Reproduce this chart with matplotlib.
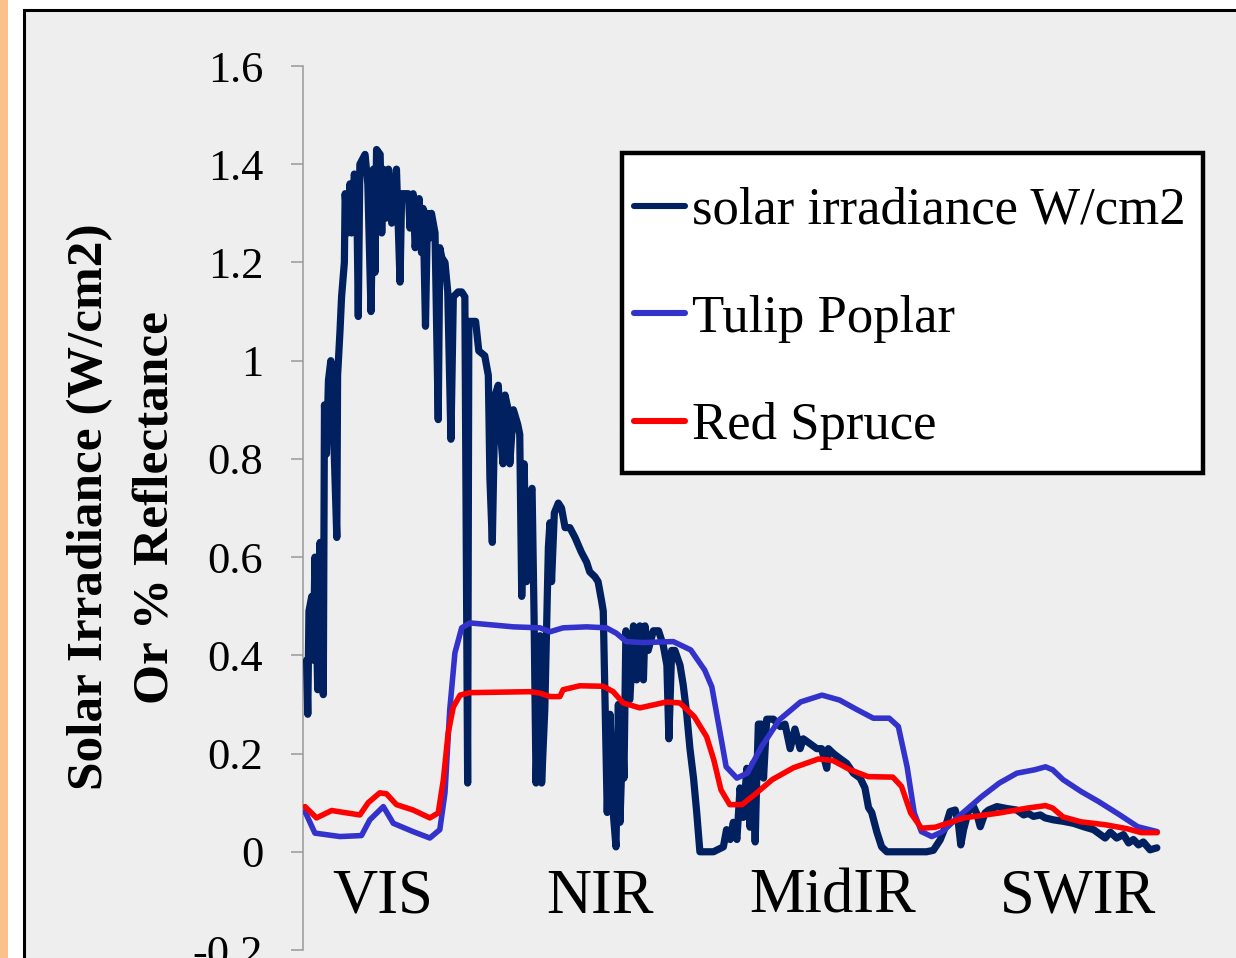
import matplotlib
matplotlib.use("Agg")
import matplotlib.pyplot as plt
from matplotlib.patches import Rectangle
from matplotlib.ticker import FuncFormatter

plt.rcParams['font.family'] = ['Liberation Serif', 'DejaVu Serif']
plt.rcParams['axes.unicode_minus'] = False

# solar irradiance (W/cm2), wavelength in nm
solar_wl = [354, 357, 360, 367, 371, 375, 382, 388, 396, 399, 404, 409, 415, 421, 430, 432,
            438, 442, 449, 451, 457, 463, 467, 474, 480, 484, 488, 501, 508, 516, 522, 526,
            530, 539, 543, 547, 553, 560, 568, 580, 589, 593, 610, 614, 622, 627, 637, 643,
            647, 653, 658, 664, 668, 677, 685, 689, 694, 702, 709, 717, 723, 735, 744, 752,
            759, 762, 769, 779, 787, 802, 811, 815, 821, 828, 836, 843, 848, 853, 861, 865,
            874, 885, 890, 895, 901, 907, 916, 921, 926, 931, 936, 941, 945, 953, 962, 966,
            970, 977, 987, 995, 1004, 1016, 1029, 1045, 1058, 1066, 1079, 1087, 1096, 1100,
            1105, 1110, 1117, 1126, 1132, 1138, 1142, 1149, 1152, 1157, 1167, 1176, 1184,
            1192, 1201, 1205, 1213, 1226, 1239, 1251, 1260, 1265, 1272, 1280, 1293, 1301,
            1310, 1318, 1327, 1335, 1343, 1377, 1402, 1410, 1419, 1427, 1436, 1444, 1452,
            1461, 1469, 1477, 1482, 1486, 1490, 1498, 1503, 1511, 1528, 1545, 1557, 1570,
            1582, 1595, 1603, 1620, 1637, 1649, 1662, 1666, 1679, 1695, 1712, 1729, 1746,
            1758, 1767, 1775, 1788, 1800, 1813, 1913, 1930, 1947, 1960, 1972, 1985, 1993,
            1999, 2006, 2018, 2031, 2039, 2048, 2060, 2069, 2090, 2115, 2140, 2157, 2169,
            2182, 2199, 2211, 2232, 2257, 2282, 2308, 2333, 2350, 2362, 2375, 2391, 2408,
            2421, 2433, 2446, 2458, 2475, 2492]
solar = [0.39, 0.28, 0.49, 0.52, 0.39, 0.60, 0.33, 0.63, 0.32, 0.91, 0.81, 0.96, 1.00, 0.88, 0.64, 0.97,
         1.06, 1.13, 1.20, 1.34, 1.26, 1.36, 1.26, 1.38, 1.35, 1.09, 1.40, 1.42, 1.36, 1.10, 1.39, 1.18,
         1.43, 1.42, 1.26, 1.39, 1.29, 1.39, 1.28, 1.39, 1.16, 1.34, 1.34, 1.27, 1.34, 1.23, 1.33, 1.22,
         1.31, 1.07, 1.30, 1.25, 1.30, 1.26, 0.88, 1.23, 1.21, 1.20, 1.14, 0.84, 1.13, 1.14, 1.14, 1.13,
         0.14, 1.08, 1.08, 1.08, 1.02, 1.01, 0.97, 0.76, 0.63, 0.93, 0.95, 0.84, 0.79, 0.93, 0.90, 0.79,
         0.90, 0.87, 0.85, 0.52, 0.79, 0.55, 0.73, 0.74, 0.48, 0.14, 0.30, 0.44, 0.14, 0.29, 0.62, 0.67,
         0.55, 0.69, 0.71, 0.70, 0.66, 0.66, 0.64, 0.61, 0.59, 0.57, 0.56, 0.55, 0.51, 0.49,
         0.28, 0.08, 0.28, 0.07, 0.01, 0.30, 0.06, 0.24, 0.15, 0.45, 0.31, 0.46, 0.35,
         0.46, 0.35, 0.46, 0.41, 0.45, 0.45, 0.42, 0.38, 0.23, 0.41, 0.41, 0.38, 0.34,
         0.28, 0.21, 0.15, 0.08, 0.00, 0.00, 0.01, 0.045, 0.025, 0.06, 0.025, 0.13, 0.07,
         0.17, 0.05, 0.18, 0.02, 0.15, 0.26, 0.26, 0.15, 0.27, 0.27, 0.255, 0.26, 0.21,
         0.25, 0.21, 0.23, 0.22, 0.21, 0.21, 0.17, 0.21, 0.20, 0.19, 0.18, 0.16, 0.15,
         0.13, 0.09, 0.08, 0.04, 0.01, 0.0, 0.0, 0.003, 0.024, 0.05, 0.082, 0.085, 0.058,
         0.014, 0.045, 0.082, 0.092, 0.078, 0.051, 0.079, 0.085, 0.092, 0.088, 0.085, 0.075, 0.078,
         0.072, 0.075, 0.069, 0.065, 0.062, 0.058, 0.051, 0.045, 0.035, 0.028, 0.04, 0.028, 0.035,
         0.018, 0.025, 0.014, 0.02, 0.004, 0.008]

# Tulip Poplar reflectance
tulip_wl = [350, 375, 438, 492, 513, 547, 572, 622, 664, 689, 702, 714, 727, 744, 765, 874,
            941, 966, 999, 1058, 1108, 1133, 1158, 1200, 1276, 1320, 1355, 1373, 1391, 1409,
            1436, 1462, 1498, 1543, 1596, 1650, 1694, 1739, 1779, 1819, 1842, 1864, 1882, 1900,
            1926, 1953, 1998, 2051, 2096, 2140, 2185, 2212, 2230, 2256, 2301, 2346, 2399, 2444, 2493]
tulip = [0.082, 0.038, 0.031, 0.033, 0.065, 0.092, 0.058, 0.041, 0.028, 0.045, 0.12, 0.289, 0.405, 0.456, 0.466, 0.458,
         0.456, 0.448, 0.456, 0.458, 0.456, 0.445, 0.428, 0.426, 0.428, 0.411, 0.37, 0.336, 0.255, 0.173,
         0.150, 0.16, 0.214, 0.269, 0.305, 0.319, 0.309, 0.289, 0.272, 0.272, 0.255, 0.173, 0.079, 0.041,
         0.031, 0.041, 0.075, 0.112, 0.140, 0.160, 0.167, 0.173, 0.167, 0.147, 0.123, 0.102, 0.075, 0.051, 0.041]

# Red Spruce reflectance
spruce_wl = [350, 379, 417, 488, 509, 538, 555, 580, 622, 664, 685, 698, 710, 723, 740, 765,
             915, 941, 966, 991, 999, 1041, 1100, 1125, 1150, 1192, 1259, 1293, 1329, 1360,
             1378, 1396, 1418, 1449, 1480, 1525, 1578, 1641, 1677, 1721, 1766, 1828, 1850, 1873,
             1900, 1935, 2007, 2096, 2167, 2212, 2230, 2256, 2301, 2363, 2417, 2453, 2493]
spruce = [0.092, 0.069, 0.084, 0.075, 0.10, 0.12, 0.118, 0.096, 0.085, 0.069, 0.079, 0.147, 0.242, 0.295, 0.319, 0.324,
          0.326, 0.323, 0.316, 0.316, 0.33, 0.338, 0.337, 0.326, 0.303, 0.293, 0.305, 0.303, 0.275, 0.234,
          0.187, 0.126, 0.096, 0.096, 0.116, 0.147, 0.171, 0.189, 0.186, 0.167, 0.153, 0.152, 0.133, 0.079,
          0.048, 0.05, 0.069, 0.079, 0.089, 0.094, 0.089, 0.071, 0.061, 0.055, 0.047, 0.039, 0.039]

bands = ['VIS', 'NIR', 'MidIR', 'SWIR']
band_wl = [546, 1092, 1678, 2294]

W, H = 1236, 958
fig = plt.figure(figsize=(W / 100, H / 100), dpi=100, facecolor='white')

# slide-like frame behind the chart
fig.add_artist(Rectangle((0, 0), 8 / W, 1, transform=fig.transFigure,
                         facecolor='#FBC18B', edgecolor='none', zorder=-10))
fig.add_artist(Rectangle((24 / W, -0.1), 1.2, 1.1 - 10 / H, transform=fig.transFigure,
                         facecolor='#EEEEEE', edgecolor='black', linewidth=2.2, zorder=-10))

ax = fig.add_axes([303 / W, 8 / H, 861 / W, 884 / H])
ax.set_zorder(2)
ax.set_facecolor('none')

ax.plot(solar_wl, solar, color='#00205F', lw=5.2, solid_joinstyle='round',
        solid_capstyle='round', label='solar irradiance W/cm2', zorder=3)
ax.plot(tulip_wl, tulip, color='#3333CC', lw=4.0, solid_capstyle='round',
        solid_joinstyle='round', label='Tulip Poplar', zorder=4)
ax.plot(spruce_wl, spruce, color='#FF0000', lw=4.0, solid_capstyle='round',
        solid_joinstyle='round', label='Red Spruce', zorder=5)

ax.set_xlim(345, 2510)
ax.set_ylim(-0.2, 1.6)
ax.set_yticks([-0.2, 0, 0.2, 0.4, 0.6, 0.8, 1.0, 1.2, 1.4, 1.6])
ax.yaxis.set_major_formatter(FuncFormatter(lambda v, p: f'{v:g}'))
ax.tick_params(axis='y', direction='out', length=8.6, width=1.1, color='#999999',
               labelsize=32, pad=20)
ax.set_xticks([])
for s in ['top', 'right', 'bottom']:
    ax.spines[s].set_visible(False)
ax.spines['left'].set_color('#999999')
ax.spines['left'].set_linewidth(1.1)

for name, x in zip(bands, band_wl):
    ax.text(x, -0.124, name, ha='center', va='baseline', fontsize=45)

fig.text(123 / W, 1 - 507 / H, 'Solar Irradiance (W/cm2)\nOr % Reflectance',
         rotation=90, ha='center', va='center', multialignment='center',
         fontsize=37, fontweight='bold', linespacing=1.55)

# legend box drawn separately so the padding can match
box = Rectangle((622 / W, 1 - 473 / H), (1203 - 622) / W, 320 / H, transform=fig.transFigure,
                facecolor='white', edgecolor='black', linewidth=3.2, zorder=6)
ax.add_artist(box)
box.set_clip_on(False)

leg = ax.legend(loc='upper left', bbox_to_anchor=(634 / W, 1 - 187 / H),
                bbox_transform=fig.transFigure, borderaxespad=0, fontsize=38,
                handlelength=0.97, handletextpad=0.12, labelspacing=1.13,
                borderpad=0, frameon=False)
leg.set_zorder(7)
for line in leg.get_lines():
    line.set_linewidth(4.4)

fig.savefig('out.png', dpi=100)
